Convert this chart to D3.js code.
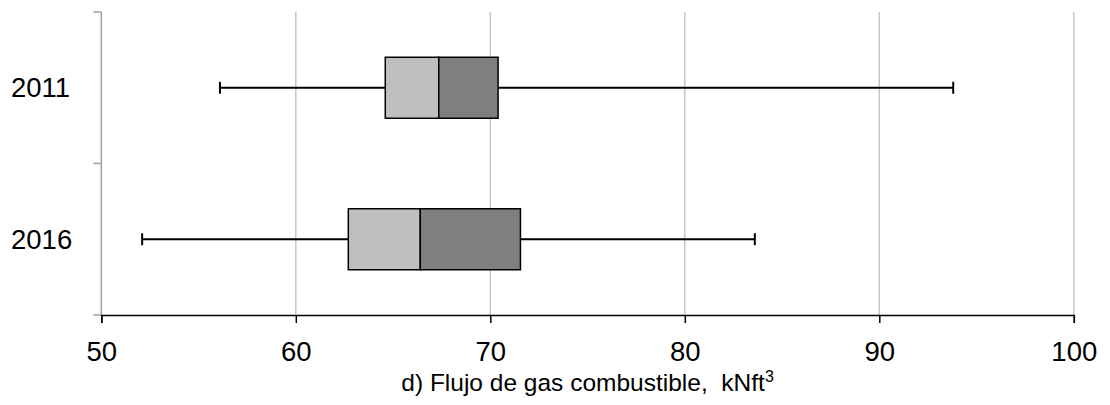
<!DOCTYPE html>
<html>
<head>
<meta charset="utf-8">
<script src="https://cdn.jsdelivr.net/npm/d3@7"></script>
<style>
  body { margin: 0; background: #fff; }
  text { font-family: "Liberation Sans", Arial, sans-serif; fill: #000; }
</style>
</head>
<body>
<svg width="1110" height="405"></svg>
<script>
// datos
const years = ["2011", "2016"];
const minVals = [56.1, 52.1];
const q1Vals = [64.6, 62.7];
const medVals = [67.35, 66.4];
const q3Vals = [70.4, 71.55];
const maxVals = [93.8, 83.6];
const xTicks = [50, 60, 70, 80, 90, 100];

const svg = d3.select("svg");
const plotLeft = 101.3, plotRight = 1073.8, plotTop = 12, plotBottom = 315;

const x = d3.scaleLinear().domain([50, 100]).range([plotLeft, plotRight]);
const y = d3.scaleBand().domain(years).range([plotTop, plotBottom]);

// lineas de cuadricula
svg.append("g")
    .selectAll("line")
    .data(xTicks.slice(1))
    .join("line")
    .attr("x1", d => x(d)).attr("x2", d => x(d))
    .attr("y1", plotTop).attr("y2", plotBottom)
    .attr("stroke", "#c6c6c6")
    .attr("stroke-width", 1.5);

// eje y (gris)
svg.append("line")
    .attr("x1", plotLeft).attr("x2", plotLeft)
    .attr("y1", plotTop).attr("y2", plotBottom)
    .attr("stroke", "#a0a0a0").attr("stroke-width", 1.5);
svg.append("g")
    .selectAll("line")
    .data([plotTop, (plotTop + plotBottom) / 2, plotBottom])
    .join("line")
    .attr("x1", plotLeft - 8).attr("x2", plotLeft)
    .attr("y1", d => d).attr("y2", d => d)
    .attr("stroke", "#a0a0a0").attr("stroke-width", 1.5);

// eje x
const xAxis = svg.append("g")
    .attr("transform", `translate(0,${plotBottom})`)
    .call(d3.axisBottom(x).tickValues(xTicks).tickSize(8).tickPadding(18));
xAxis.select(".domain").attr("stroke", "#000").attr("stroke-width", 1.5);
xAxis.selectAll(".tick line").attr("stroke", "#000").attr("stroke-width", 1.5);
xAxis.selectAll(".tick text")
    .attr("font-size", 27.5)
    .attr("font-family", "Liberation Sans, Arial, sans-serif")
    .attr("fill", "#000");

// etiquetas de categorias
svg.append("g")
    .selectAll("text")
    .data(years)
    .join("text")
    .attr("x", 11)
    .attr("y", d => y(d) + y.bandwidth() / 2)
    .attr("dy", "0.34em")
    .attr("font-size", 27.5)
    .text(d => d);

// cajas y bigotes
const boxH = 61;
const data = years.map((yr, i) => ({
    yr, min: minVals[i], q1: q1Vals[i], med: medVals[i], q3: q3Vals[i], max: maxVals[i]
}));

const g = svg.append("g").selectAll("g").data(data).join("g");
const cy = d => y(d.yr) + y.bandwidth() / 2;

g.append("line")
    .attr("x1", d => x(d.min)).attr("x2", d => x(d.q1))
    .attr("y1", cy).attr("y2", cy)
    .attr("stroke", "#000").attr("stroke-width", 2);
g.append("line")
    .attr("x1", d => x(d.q3)).attr("x2", d => x(d.max))
    .attr("y1", cy).attr("y2", cy)
    .attr("stroke", "#000").attr("stroke-width", 2);
g.append("line")
    .attr("x1", d => x(d.min)).attr("x2", d => x(d.min))
    .attr("y1", d => cy(d) - 6).attr("y2", d => cy(d) + 6)
    .attr("stroke", "#000").attr("stroke-width", 2);
g.append("line")
    .attr("x1", d => x(d.max)).attr("x2", d => x(d.max))
    .attr("y1", d => cy(d) - 6).attr("y2", d => cy(d) + 6)
    .attr("stroke", "#000").attr("stroke-width", 2);

g.append("rect")
    .attr("x", d => x(d.q1)).attr("width", d => x(d.med) - x(d.q1))
    .attr("y", d => cy(d) - boxH / 2).attr("height", boxH)
    .attr("fill", "#bfbfbf").attr("stroke", "#000").attr("stroke-width", 1.5);
g.append("rect")
    .attr("x", d => x(d.med)).attr("width", d => x(d.q3) - x(d.med))
    .attr("y", d => cy(d) - boxH / 2).attr("height", boxH)
    .attr("fill", "#7f7f7f").attr("stroke", "#000").attr("stroke-width", 1.5);

// titulo del eje
const title = svg.append("text")
    .attr("x", (plotLeft + plotRight) / 2)
    .attr("y", 391)
    .attr("text-anchor", "middle")
    .attr("font-size", 24.5)
    .style("white-space", "pre");
title.append("tspan").text("d) Flujo de gas combustible,  kNft");
title.append("tspan").attr("font-size", 16).attr("dy", -9).text("3");
</script>
</body>
</html>
